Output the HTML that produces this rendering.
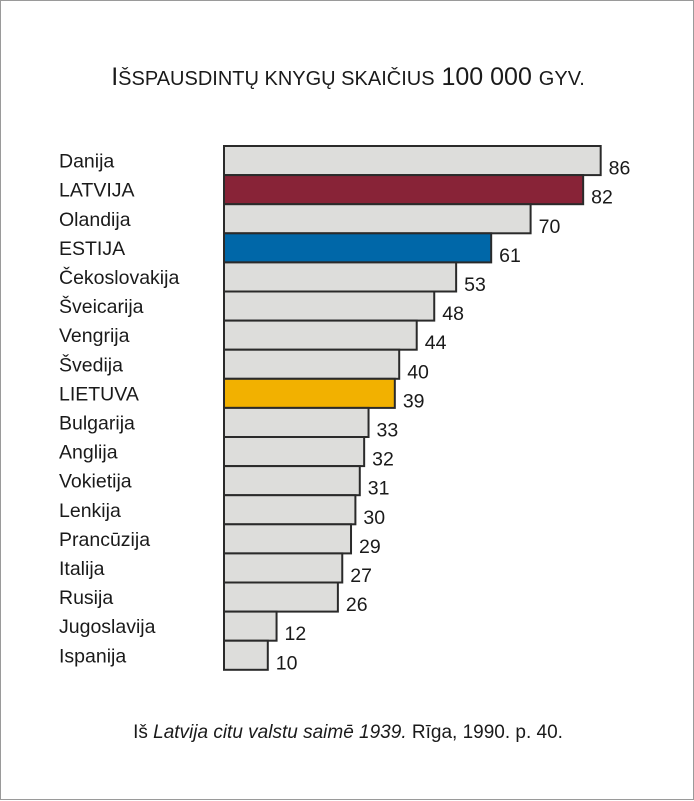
<!DOCTYPE html>
<html><head><meta charset="utf-8"><style>
body{margin:0;background:#fff;}
#wrap{position:relative;width:694px;height:800px;box-sizing:border-box;border:1px solid #9a9a9a;background:#fff;font-family:"Liberation Sans",sans-serif;color:#1a1a1a;}
</style></head><body>
<div id="wrap">
<svg width="694" height="800" style="position:absolute;left:0;top:0">
<text x="347" y="84" text-anchor="middle" font-size="25" font-family="Liberation Sans, sans-serif" fill="#1a1a1a">I<tspan font-size="20">ŠSPAUSDINTŲ KNYGŲ SKAIČIUS</tspan> 100 000 <tspan font-size="20">GYV.</tspan></text>
<g id="bars"></g>
<text x="347" y="737" text-anchor="middle" font-size="19" font-family="Liberation Sans, sans-serif" fill="#1a1a1a">Iš <tspan font-style="italic">Latvija citu valstu saimē 1939.</tspan> Rīga, 1990. p. 40.</text>
</svg>
</div>
<script>
const categories=["Danija","LATVIJA","Olandija","ESTIJA","Čekoslovakija","Šveicarija","Vengrija","Švedija","LIETUVA","Bulgarija","Anglija","Vokietija","Lenkija","Prancūzija","Italija","Rusija","Jugoslavija","Ispanija"];
const values=[86,82,70,61,53,48,44,40,39,33,32,31,30,29,27,26,12,10];
const highlights={"LATVIJA":"#882337","ESTIJA":"#0067a8","LIETUVA":"#f2b100"};
const x0=223,scale=4.38,y0=145,rowH=29.1;
const xs=v=>v*scale, ys=i=>y0+i*rowH;
const g=document.getElementById('bars');
const NS="http://www.w3.org/2000/svg";
categories.forEach((c,i)=>{
  const r=document.createElementNS(NS,'rect');
  r.setAttribute('x',x0);r.setAttribute('y',ys(i));
  r.setAttribute('width',xs(values[i]));r.setAttribute('height',rowH);
  r.setAttribute('fill',highlights[c]||'#dddddb');
  r.setAttribute('stroke','#2a2a2a');r.setAttribute('stroke-width','2');
  
  
  g.appendChild(r);
  const t=document.createElementNS(NS,'text');
  t.setAttribute('x',58);t.setAttribute('y',ys(i)+rowH/2+7);
  t.setAttribute('font-size','19.5');t.setAttribute('fill','#1a1a1a');
  t.textContent=c;
  
  
  g.appendChild(t);
  const v=document.createElementNS(NS,'text');
  v.setAttribute('x',x0+xs(values[i])+8);v.setAttribute('y',ys(i)+rowH/2+14);
  v.setAttribute('font-size','19.5');v.setAttribute('fill','#1a1a1a');
  v.textContent=values[i];
  
  
  g.appendChild(v);
});
</script>
</body></html>
